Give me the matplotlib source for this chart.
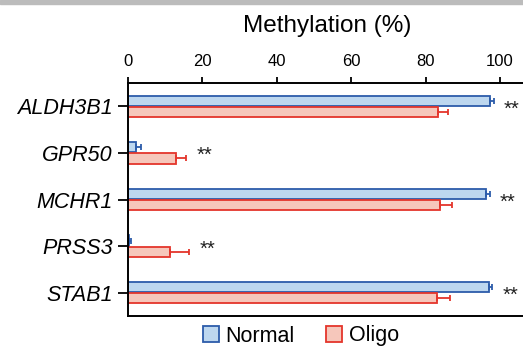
import numpy as np
import matplotlib.pyplot as plt
from matplotlib.patches import Rectangle, Patch

plt.rcParams['font.family'] = ['Liberation Sans', 'DejaVu Sans']

genes = ["ALDH3B1", "GPR50", "MCHR1", "PRSS3", "STAB1"]
normal = [97.3, 2.2, 96.2, 0.3, 97.0]
normal_err = [1.0, 1.2, 1.0, 0.4, 0.8]
oligo = [83.3, 12.8, 83.9, 11.3, 83.0]
oligo_err = [2.7, 2.8, 3.3, 5.1, 3.6]
signif = ["**", "**", "**", "**", "**"]
xticks = [0, 20, 40, 60, 80, 100]

blue_face, blue_edge = "#bdd7ef", "#2c5caa"
red_face, red_edge = "#f6c7bb", "#e4352b"

fig = plt.figure(figsize=(5.23, 3.49), dpi=100)
# grey band along the top of the panel
fig.patches.append(Rectangle((0, 1 - 4 / 349), 1, 4 / 349, transform=fig.transFigure,
                             color="#bcbcbc", zorder=0))

ax = fig.add_axes([128 / 523, 33 / 349, 398 / 523, 233 / 349])

y = np.arange(len(genes))
h = 0.22
off = 0.12

ax.barh(y - off, normal, height=h, color=blue_face, edgecolor=blue_edge, linewidth=1.3,
        xerr=[np.zeros(len(genes)), normal_err],
        error_kw=dict(ecolor=blue_edge, elinewidth=1.3, capsize=2.5, capthick=1.3))
ax.barh(y + off, oligo, height=h, color=red_face, edgecolor=red_edge, linewidth=1.3,
        xerr=[np.zeros(len(genes)), oligo_err],
        error_kw=dict(ecolor=red_edge, elinewidth=1.3, capsize=2.5, capthick=1.3))

# significance stars to the right of the longest bar of each gene
for i, s in enumerate(signif):
    top = max(normal[i] + normal_err[i], oligo[i] + oligo_err[i])
    ax.text(top + 2.8, y[i] + 0.18, s, fontsize=14.5, ha="left", va="baseline",
            color="#222222")

ax.set_xlim(0, 107)
ax.set_ylim(len(genes) - 0.5, -0.5)
ax.set_yticks(y)
ax.set_yticklabels(genes, fontsize=15.5, style="italic")
ax.set_xticks(xticks)
ax.xaxis.tick_top()
ax.xaxis.set_label_position("top")
ax.tick_params(axis="x", labelsize=12, length=4, width=1.3, pad=6)
ax.tick_params(axis="y", length=7, width=1.3, pad=4)
ax.set_xlabel("Methylation (%)", fontsize=17.5, labelpad=16)
for sp in ax.spines.values():
    sp.set_linewidth(1.4)

handles = [Patch(facecolor=blue_face, edgecolor=blue_edge, linewidth=1.3, label="Normal"),
           Patch(facecolor=red_face, edgecolor=red_edge, linewidth=1.3, label="Oligo")]
fig.legend(handles=handles, loc="center", bbox_to_anchor=(301 / 523, 1 - 336 / 349),
           ncol=2, frameon=False, fontsize=15.5, handlelength=0.75, handleheight=0.75,
           handletextpad=0.3, columnspacing=1.45, borderaxespad=0)

fig.savefig("out.png", dpi=100)
